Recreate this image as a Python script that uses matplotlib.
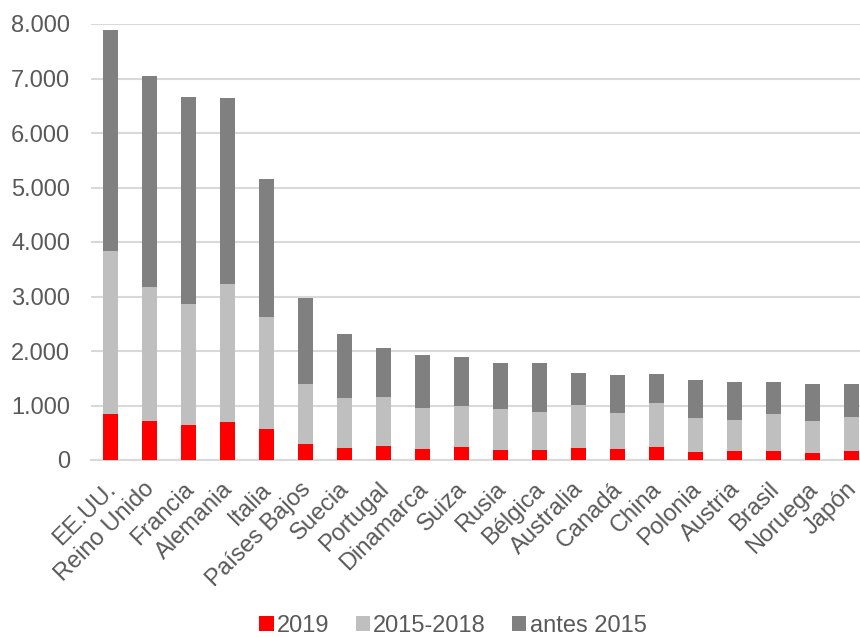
import matplotlib
matplotlib.use('Agg')
import matplotlib.pyplot as plt
import matplotlib.transforms as mtransforms
import numpy as np
from matplotlib.ticker import FuncFormatter

plt.rcParams['font.family'] = ['Liberation Sans', 'DejaVu Sans']

paises = ['EE.UU.', 'Reino Unido', 'Francia', 'Alemania', 'Italia', 'Países Bajos',
          'Suecia', 'Portugal', 'Dinamarca', 'Suiza', 'Rusia', 'Bélgica', 'Australia',
          'Canadá', 'China', 'Polonia', 'Austria', 'Brasil', 'Noruega', 'Japón']

# valores (acumulados)
total = [7890, 7052, 6667, 6636, 5162, 2966, 2306, 2049, 1927, 1884, 1774, 1786, 1602,
         1566, 1578, 1468, 1425, 1437, 1388, 1394]
hasta_2015_2018 = [3835, 3180, 2862, 3229, 2624, 1394, 1138, 1162, 954, 991, 936, 887, 1003,
                   856, 1040, 771, 734, 844, 716, 789]
v2019 = [850, 710, 636, 703, 563, 300, 226, 257, 196, 244, 190, 190, 226,
         196, 233, 153, 171, 171, 135, 165]

v2015_2018 = [b - a for a, b in zip(v2019, hasta_2015_2018)]
antes_2015 = [t - b for b, t in zip(hasta_2015_2018, total)]

fig = plt.figure(figsize=(8.6, 6.37), dpi=100)
ax = fig.add_axes([91 / 860, (637 - 460) / 637, 780 / 860, 436 / 637])

x = np.arange(len(paises))
w = 0.4
ax.bar(x, v2019, w, color='#ff0000', label='2019', zorder=3)
ax.bar(x, v2015_2018, w, bottom=v2019, color='#bfbfbf', label='2015-2018', zorder=3)
ax.bar(x, antes_2015, w, bottom=hasta_2015_2018, color='#808080', label='antes 2015', zorder=3)

ax.set_xlim(-0.5, len(paises) - 0.5)
ax.set_ylim(0, 8000)
ax.set_yticks(np.arange(0, 8001, 1000))
ax.yaxis.set_major_formatter(FuncFormatter(lambda v, p: f'{int(v):,}'.replace(',', '.')))
ax.grid(axis='y', color='#d9d9d9', linewidth=1.5, zorder=0)
for s in ['top', 'right', 'left']:
    ax.spines[s].set_visible(False)
ax.spines['bottom'].set_color('#d9d9d9')
ax.spines['bottom'].set_linewidth(1.5)
ax.tick_params(axis='both', length=0, labelsize=17, colors='#595959')
ax.tick_params(axis='y', pad=15)

ax.set_xticks(x)
ax.set_xticklabels(paises, rotation=45, ha='right', va='top', rotation_mode='anchor')
ax.tick_params(axis='x', pad=13)
# desplazar un poco las etiquetas a la izquierda
offset = mtransforms.ScaledTranslation(-6 / 100, 0, fig.dpi_scale_trans)
for lbl in ax.get_xticklabels():
    lbl.set_transform(lbl.get_transform() + offset)

fig.legend(loc='center', bbox_to_anchor=(453 / 860, 11 / 637), ncol=3, frameon=False,
           fontsize=17, labelcolor='#595959', handlelength=0.6, handleheight=0.6,
           handletextpad=0.15, columnspacing=1.1)

fig.savefig('out.png', dpi=100)
